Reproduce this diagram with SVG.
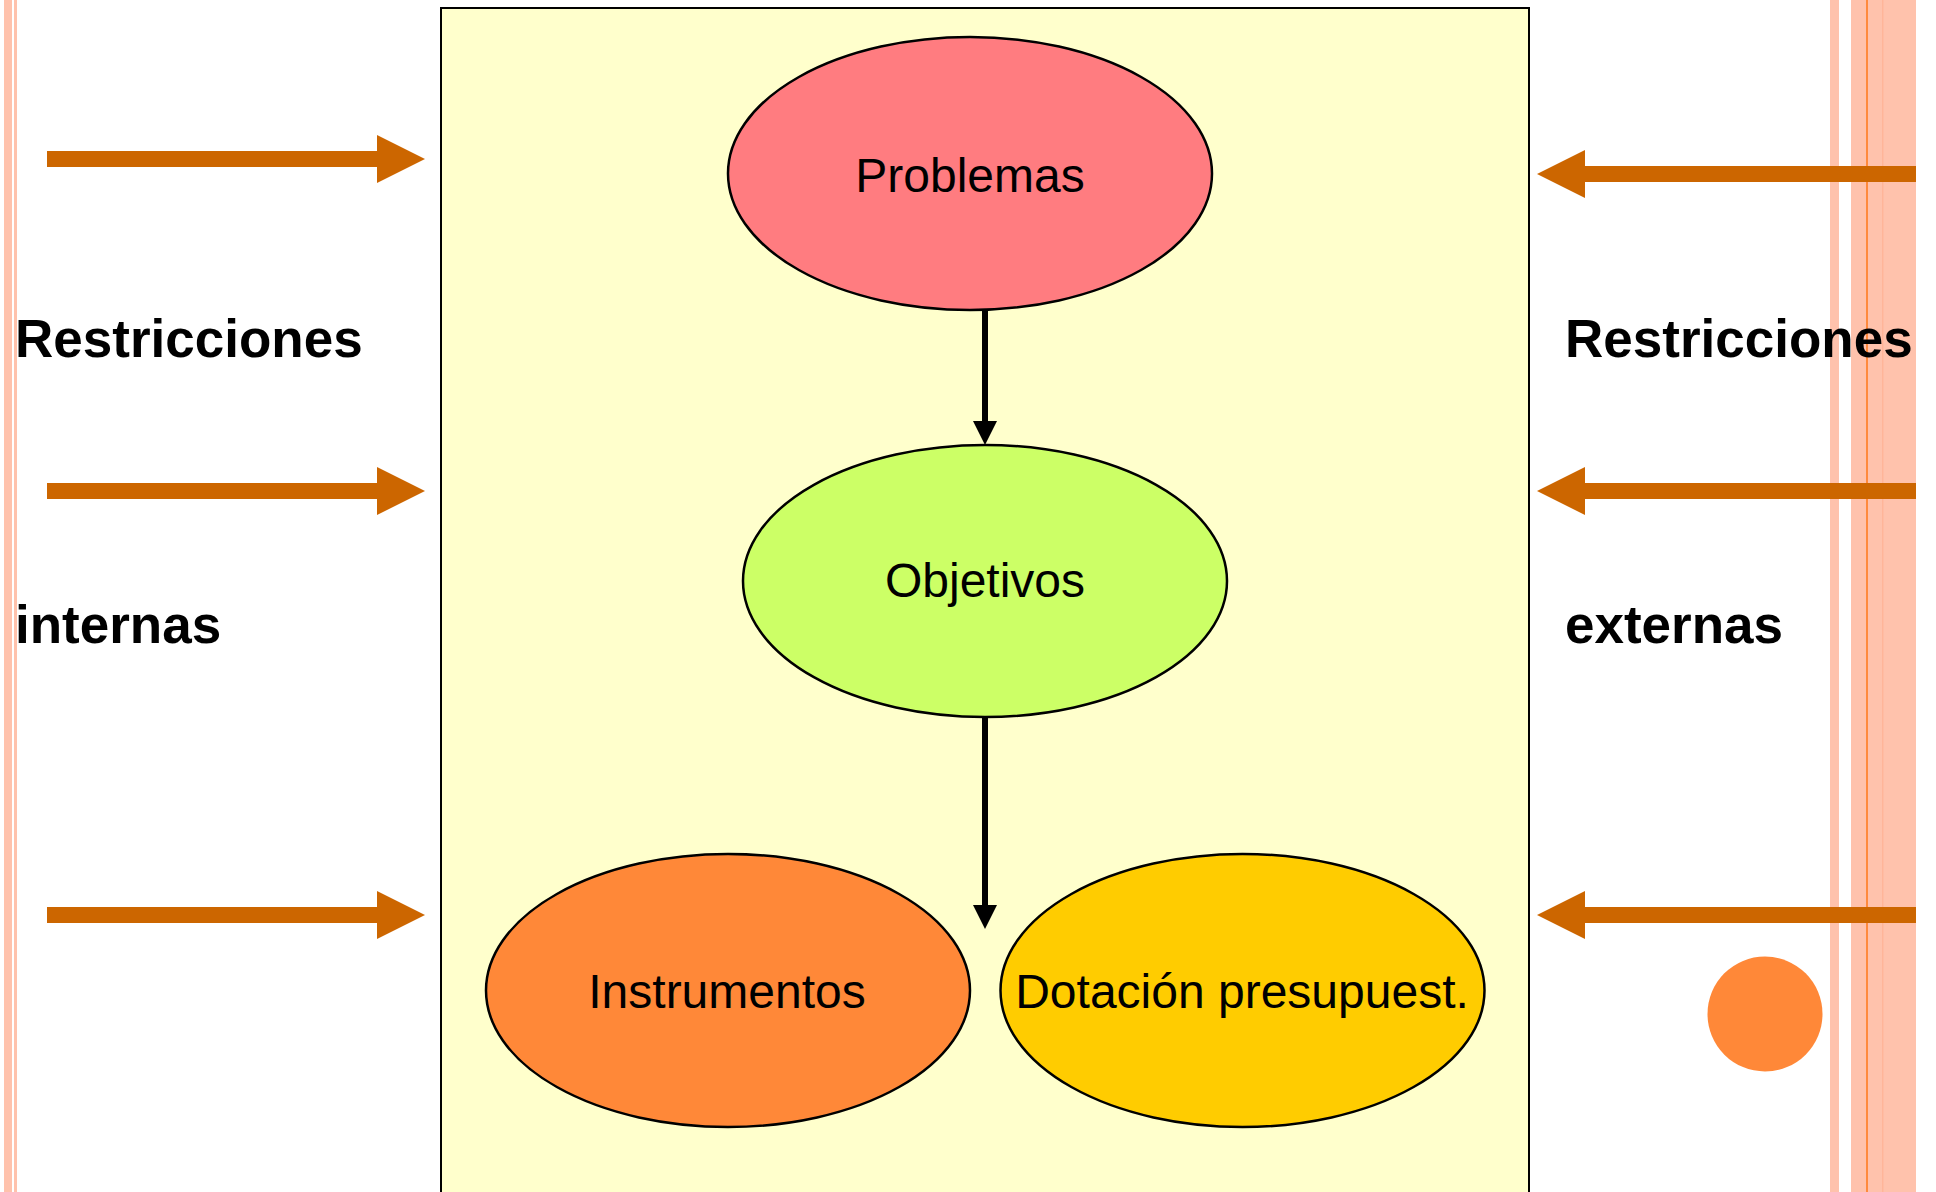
<svg xmlns="http://www.w3.org/2000/svg" width="1936" height="1192" viewBox="0 0 1936 1192">
  <defs>
    <style>
      .stripe { fill: #FFC2AC; }
      .node { stroke: #000; stroke-width: 2.5; }
      .label { font-family: "Liberation Sans", Arial, sans-serif; font-size: 48px; fill: #000; text-anchor: middle; }
      .side { font-family: "Liberation Sans", Arial, sans-serif; font-size: 53px; font-weight: bold; fill: #000; }
      .orange-arrow { fill: #CC6600; }
      .conn { stroke: #000; stroke-width: 6; fill: none; }
    </style>
    <marker id="ah" markerUnits="userSpaceOnUse" markerWidth="26" markerHeight="24" refX="1" refY="12" orient="auto">
      <path d="M0,0 L24,12 L0,24 Z" fill="#000"/>
    </marker>
  </defs>

  <rect width="1936" height="1192" fill="#FFFFFF"/>

  <g id="border-left">
    <rect class="stripe" x="4" y="0" width="8" height="1192"/>
    <rect class="stripe" x="14" y="0" width="3" height="1192"/>
  </g>
  <g id="border-right">
    <rect class="stripe" x="1830" y="0" width="9" height="1192"/>
    <rect class="stripe" x="1851" y="0" width="65" height="1192"/>
    <rect x="1866" y="0" width="2" height="1192" fill="#FF8A3D"/>
    <rect x="1882" y="0" width="1.5" height="1192" fill="#FFB599"/>
  </g>

  <rect id="frame" x="441" y="8" width="1088" height="1200" fill="#FFFFCC" stroke="#000" stroke-width="2"/>

  <g id="restr-arrows">
    <path class="orange-arrow" d="M47,151 H377 V135 L425,159 L377,183 V167 H47 Z"/>
    <path class="orange-arrow" d="M47,483 H377 V467 L425,491 L377,515 V499 H47 Z"/>
    <path class="orange-arrow" d="M47,907 H377 V891 L425,915 L377,939 V923 H47 Z"/>
    <path class="orange-arrow" d="M1916,166 H1585 V150 L1537,174 L1585,198 V182 H1916 Z"/>
    <path class="orange-arrow" d="M1916,483 H1585 V467 L1537,491 L1585,515 V499 H1916 Z"/>
    <path class="orange-arrow" d="M1916,907 H1585 V891 L1537,915 L1585,939 V923 H1916 Z"/>
  </g>

  <g id="label-internas">
    <text class="side" x="15" y="357">Restricciones</text>
    <text class="side" x="15" y="643">internas</text>
  </g>
  <g id="label-externas">
    <text class="side" x="1565" y="357">Restricciones</text>
    <text class="side" x="1565" y="643">externas</text>
  </g>

  <g id="connectors">
    <line class="conn" x1="985" y1="310" x2="985" y2="422" marker-end="url(#ah)"/>
    <line class="conn" x1="985" y1="717" x2="985" y2="906" marker-end="url(#ah)"/>
  </g>

  <g id="node-problemas">
    <ellipse class="node" cx="970" cy="173.5" rx="242" ry="136.5" fill="#FF7C80"/>
    <text class="label" x="970" y="192">Problemas</text>
  </g>
  <g id="node-objetivos">
    <ellipse class="node" cx="985" cy="581" rx="242" ry="136" fill="#CCFF66"/>
    <text class="label" x="985" y="597">Objetivos</text>
  </g>
  <g id="node-instrumentos">
    <ellipse class="node" cx="728" cy="990.5" rx="242" ry="136.5" fill="#FF8838"/>
    <text class="label" x="727" y="1008">Instrumentos</text>
  </g>
  <g id="node-dotacion">
    <ellipse class="node" cx="1242.5" cy="990.5" rx="242" ry="136.5" fill="#FFCC00"/>
    <text class="label" x="1242" y="1008">Dotación presupuest.</text>
  </g>

  <circle id="dot" cx="1765" cy="1014" r="57.5" fill="#FF8838"/>
</svg>
